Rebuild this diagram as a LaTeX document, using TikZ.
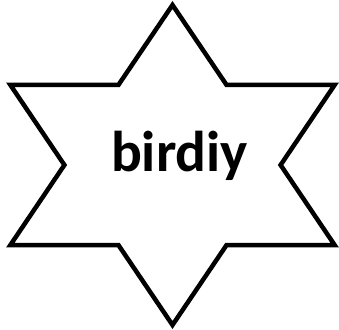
\documentclass[tikz,border=0pt]{standalone}
\usepackage{fontspec}
\setmainfont{Carlito}
\usetikzlibrary{positioning,calc}
\tikzset{
  starline/.style={draw=black,line width=4.5pt,line join=miter,fill=white},
  startext/.style={font=\fontsize{57.5}{60}\selectfont\bfseries,inner sep=0pt,anchor=base}
}

\begin{document}
\begin{tikzpicture}[x=1pt,y=1pt]
  \useasboundingbox (0,0) rectangle (339,329);
  \coordinate (centre) at (172.5,164);
  % six-pointed star, a bit wider than tall
  \draw[starline] ($(centre)+(0,160)$) -- ($(centre)+(54.1,80)$) -- ($(centre)+(162.1,80)$)
    -- ($(centre)+(108.1,0)$) -- ($(centre)+(162.1,-80)$) -- ($(centre)+(54.1,-80)$)
    -- ($(centre)+(0,-160)$) -- ($(centre)+(-54.1,-80)$) -- ($(centre)+(-162.1,-80)$)
    -- ($(centre)+(-108.1,0)$) -- ($(centre)+(-162.1,80)$) -- ($(centre)+(-54.1,80)$) -- cycle;
  \node[startext] (label) at (179.5,157) {birdiy};
\end{tikzpicture}
\end{document}
